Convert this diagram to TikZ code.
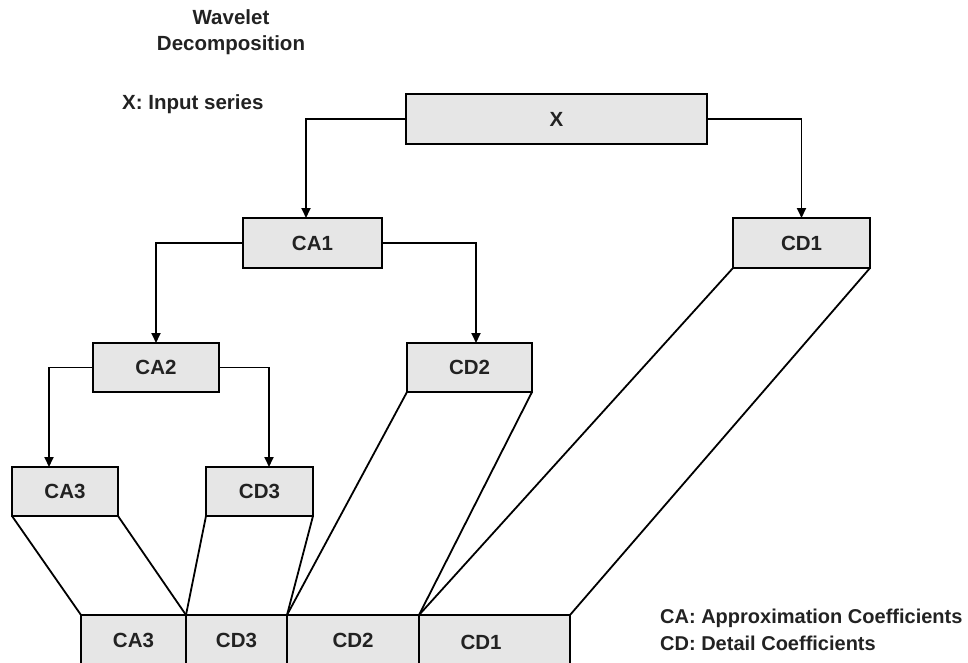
\documentclass[tikz,border=0pt]{standalone}
\usepackage{fontspec}
\setmainfont{Liberation Sans}
\usetikzlibrary{arrows.meta}
\usetikzlibrary{positioning}
\definecolor{boxgray}{HTML}{E6E6E6}
\definecolor{inkgray}{HTML}{222222}

\begin{document}
\begin{tikzpicture}[x=1pt,y=-1pt,line cap=round]
\tikzset{tag/.style={font=\fontsize{20.5}{25.5}\selectfont\bfseries,text=inkgray,inner sep=0pt}}
\tikzset{coef/.style={tag,draw,fill=boxgray,line width=2pt,outer sep=0pt,
        minimum height=50pt}
}
\tikzset{split/.style={line width=1.8pt,-{Triangle[length=10pt,width=9pt]}}}
\tikzset{slant/.style={line width=1.8pt}}

\useasboundingbox (0,0) rectangle (968,663);

\node[tag,align=center] (title) at (231,32) {Wavelet\\Decomposition};
\node[tag,anchor=base west] (input) at (122,110) {X: Input series};

\node[coef,minimum width=301pt] (x) at (556.5,119) {X};
\node[coef,minimum width=139pt] (ca1) at (312.5,243) {CA1};
\node[coef,minimum width=137pt] (cd1) at (801.5,243) {CD1};
\node[coef,minimum width=126pt,minimum height=49pt] (ca2) at (156,367.5) {CA2};
\node[coef,minimum width=125pt,minimum height=49pt] (cd2) at (469.5,367.5) {CD2};
\node[coef,minimum width=106pt,minimum height=49pt] (ca3) at (65,491.5) {CA3};
\node[coef,minimum width=107pt,minimum height=49pt] (cd3) at (259.5,491.5) {CD3};

\node[coef,minimum width=105pt] (sa3) at (133.5,640) {CA3};
\node[coef,minimum width=101pt,right=0pt of sa3] (sd3) {CD3};
\node[coef,minimum width=132pt,right=0pt of sd3] (sd2) {CD2};
\node[coef,minimum width=151pt,right=0pt of sd2,
      label={[tag,xshift=-13.5pt,yshift=-2pt]center:CD1}] (sd1) {};

\draw[split] (x.west) -| ([xshift=-6.5pt]ca1.north);
\draw[split] (x.east) -| (cd1.north);
\draw[split] (ca1.west) -| (ca2.north);
\draw[split] (ca1.east) -| ([xshift=6.5pt]cd2.north);
\draw[split] (ca2.west) -| ([xshift=-16pt]ca3.north);
\draw[split] (ca2.east) -| ([xshift=9.5pt]cd3.north);

\draw[slant] (ca3.south west) -- (sa3.north west);
\draw[slant] (ca3.south east) -- (sa3.north east);
\draw[slant] (cd3.south west) -- (sd3.north west);
\draw[slant] (cd3.south east) -- (sd3.north east);
\draw[slant] (cd2.south west) -- (sd2.north west);
\draw[slant] (cd2.south east) -- (sd2.north east);
\draw[slant] (cd1.south west) -- (sd1.north west);
\draw[slant] (cd1.south east) -- (sd1.north east);

\node[tag,font=\fontsize{20}{25}\selectfont\bfseries,anchor=base west] (legca) at (660,623) {CA: Approximation Coefficients};
\node[tag,font=\fontsize{20}{25}\selectfont\bfseries,anchor=base west] (legcd) at (660,650) {CD: Detail Coefficients};
\end{tikzpicture}
\end{document}
